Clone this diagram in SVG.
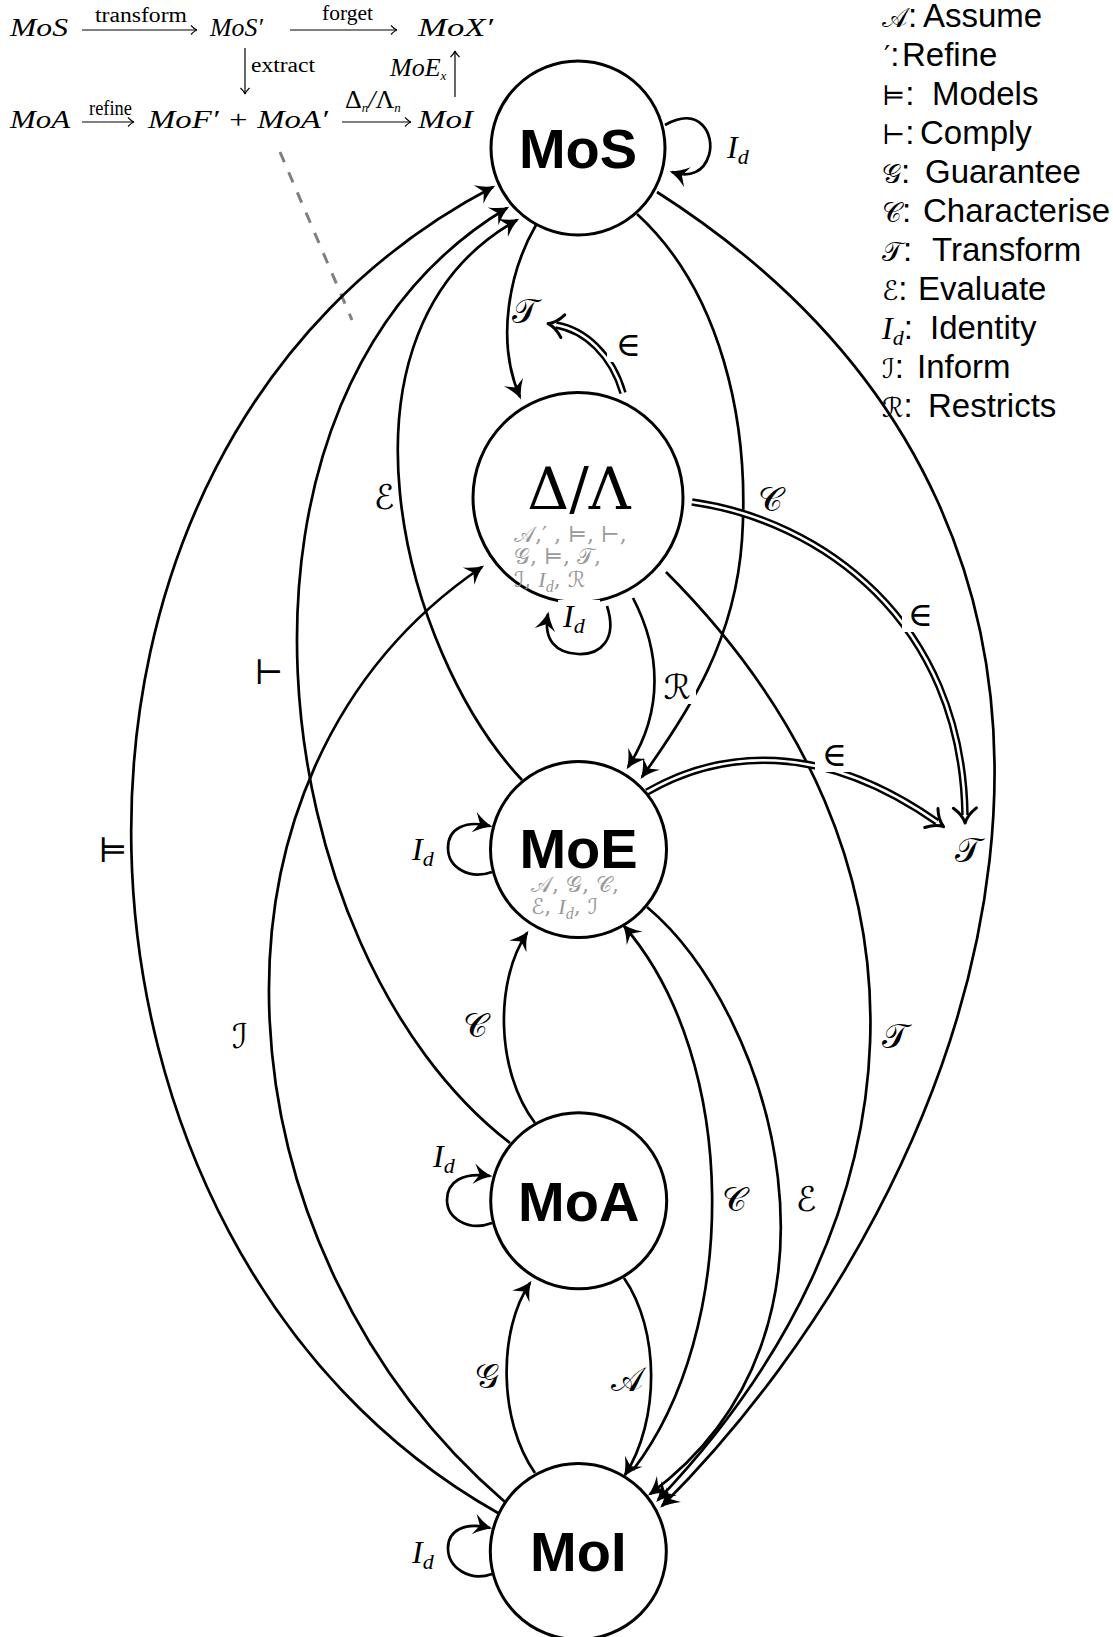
<svg xmlns="http://www.w3.org/2000/svg" width="1113" height="1637" viewBox="0 0 1113 1637">
<style>
.node{fill:#fff;stroke:#000;stroke-width:3}
.nl{font-family:"Liberation Sans",Arial,sans-serif;font-weight:bold;font-size:56px;text-anchor:middle;fill:#000}
.e{fill:none;stroke:#000;stroke-width:2.7}
.dbo{fill:none;stroke:#000;stroke-width:7.5}
.dbi{fill:none;stroke:#fff;stroke-width:2.6}
.lab{font-family:"DejaVu Serif","DejaVu Sans",serif;font-size:34px;text-anchor:middle;fill:#000}
.it{font-family:"Liberation Serif","Times New Roman",serif;font-style:italic}
.gr{font-family:"DejaVu Serif","DejaVu Sans",serif;font-size:22px;fill:#999}
.leg{font-family:"Liberation Sans",Arial,sans-serif;font-size:33px;fill:#000}
.legs{font-family:"DejaVu Serif","DejaVu Sans",serif;font-size:27px;fill:#000}
.cd{font-family:"Liberation Serif","Times New Roman",serif;font-size:26px;font-style:italic;fill:#000}
.cdl{font-family:"Liberation Serif","Times New Roman",serif;font-size:20px;fill:#000}
.dl{font-family:"DejaVu Serif",serif;font-size:58px;text-anchor:middle;fill:#000}
.thin{fill:none;stroke:#000;stroke-width:1.2}
.wb{fill:#fff;stroke:none}
</style>
<defs>
<marker id="ah" markerUnits="userSpaceOnUse" markerWidth="26" markerHeight="26" viewBox="-15 -10 19 20" refX="0" refY="0" orient="auto">
<path d="M2,0 Q-5,-2 -12.5,-8 L-8,0 L-12.5,8 Q-5,2 2,0 Z" fill="#000"/>
</marker>
<marker id="imp" markerUnits="userSpaceOnUse" markerWidth="30" markerHeight="30" viewBox="-12 -13 24 26" refX="0" refY="0" orient="auto">
<path d="M7,0 Q0,-2 -6,-10 M7,0 Q0,2 -6,10" fill="none" stroke="#000" stroke-width="2.6" stroke-linecap="round"/>
</marker>
<marker id="ta" markerUnits="userSpaceOnUse" markerWidth="12" markerHeight="12" viewBox="-8 -6 10 12" refX="0" refY="0" orient="auto">
<path d="M-6,-4.5 Q-2,-0.5 0,0 Q-2,0.5 -6,4.5" fill="none" stroke="#000" stroke-width="1.2"/>
</marker>
</defs>
<rect width="1113" height="1637" fill="#fff"/>

<!-- top-left commutative diagram -->
<g id="cd">
<text class="cd" x="10" y="36" textLength="58" lengthAdjust="spacingAndGlyphs">MoS</text>
<text class="cd" x="210" y="36" textLength="53" lengthAdjust="spacingAndGlyphs">MoS′</text>
<text class="cd" x="418" y="36" textLength="75" lengthAdjust="spacingAndGlyphs">MoX′</text>
<text class="cd" x="10" y="128" textLength="60" lengthAdjust="spacingAndGlyphs">MoA</text>
<text class="cd" x="148" y="128" textLength="180" lengthAdjust="spacingAndGlyphs">MoF′ + MoA′</text>
<text class="cd" x="418" y="128" textLength="55" lengthAdjust="spacingAndGlyphs">MoI</text>
<text class="cdl" x="95" y="22" textLength="92" lengthAdjust="spacingAndGlyphs">transform</text>
<text class="cdl" x="322" y="20" textLength="51" lengthAdjust="spacingAndGlyphs">forget</text>
<text class="cdl" x="251" y="72" textLength="64" lengthAdjust="spacingAndGlyphs">extract</text>
<text class="cdl" x="89" y="115" textLength="43" lengthAdjust="spacingAndGlyphs">refine</text>
<text class="cd" x="390" y="76" font-size="18">MoE<tspan font-size="13" dy="4">x</tspan></text>
<text class="cd" x="345" y="108" font-size="18"><tspan font-style="normal">Δ</tspan><tspan font-size="13" dy="4">n</tspan><tspan dy="-4">/</tspan><tspan font-style="normal">Λ</tspan><tspan font-size="13" dy="4">n</tspan></text>
<path class="thin" d="M82,30 H197" marker-end="url(#ta)"/>
<path class="thin" d="M290,30 H397" marker-end="url(#ta)"/>
<path class="thin" d="M245,48 V94" marker-end="url(#ta)"/>
<path class="thin" d="M455,97 V51" marker-end="url(#ta)"/>
<path class="thin" d="M82,122 H134" marker-end="url(#ta)"/>
<path class="thin" d="M342,122 H411" marker-end="url(#ta)"/>
</g>
<path d="M280,152 L352,320" stroke="#808080" stroke-width="3" stroke-dasharray="11 11" fill="none"/>

<!-- legend -->
<g id="legend">
<text x="882" y="27"><tspan class="legs">𝒜</tspan><tspan class="leg">:</tspan></text><text class="leg" x="923" y="27">Assume</text>
<text x="884" y="66"><tspan class="legs">′</tspan><tspan class="leg">:</tspan></text><text class="leg" x="902" y="66">Refine</text>
<text x="882" y="105"><tspan class="legs">⊨</tspan><tspan class="leg">:</tspan></text><text class="leg" x="932" y="105">Models</text>
<text x="882" y="144"><tspan class="legs">⊢</tspan><tspan class="leg">:</tspan></text><text class="leg" x="920" y="144">Comply</text>
<text x="882" y="183"><tspan class="legs">𝒢</tspan><tspan class="leg">:</tspan></text><text class="leg" x="925" y="183">Guarantee</text>
<text x="882" y="222"><tspan class="legs">𝒞</tspan><tspan class="leg">:</tspan></text><text class="leg" x="923" y="222">Characterise</text>
<text x="882" y="261"><tspan class="legs">𝒯</tspan><tspan class="leg">:</tspan></text><text class="leg" x="932" y="261">Transform</text>
<text x="882" y="300"><tspan class="legs">ℰ</tspan><tspan class="leg">:</tspan></text><text class="leg" x="918" y="300">Evaluate</text>
<text class="leg" x="882" y="339"><tspan class="it" font-size="32">I</tspan><tspan class="it" font-size="22" dy="6">d</tspan><tspan dy="-6">:</tspan></text><text class="leg" x="930" y="339">Identity</text>
<text x="882" y="378"><tspan class="legs">ℐ</tspan><tspan class="leg">:</tspan></text><text class="leg" x="917" y="378">Inform</text>
<text x="882" y="417"><tspan class="legs">ℛ</tspan><tspan class="leg">:</tspan></text><text class="leg" x="928" y="417">Restricts</text>
</g>

<!-- connectors -->
<g id="edges">
<path class="e" d="M498,1513 C30,1250 -10,450 493,187" marker-end="url(#ah)"/>
<path class="e" d="M510,1143 C260,950 195,395 507,208" marker-end="url(#ah)"/>
<path class="e" d="M522,780 C400,650 320,330 517,220" marker-end="url(#ah)"/>
<path class="e" d="M505,1502 C216,1254 174,776 482,567" marker-end="url(#ah)"/>
<path class="e" d="M536,225 C510,270 495,340 520,397" marker-end="url(#ah)"/>
<path class="e" d="M637,214 C720,290 750,420 742,540 C735,640 690,710 642,777" marker-end="url(#ah)"/>
<path class="e" d="M633,598 C660,650 665,710 628,767" marker-end="url(#ah)"/>
<path class="e" d="M657,192 C1212,547 987,1182 662,1506" marker-end="url(#ah)"/>
<path class="e" d="M666,572 C957,863 922,1223 658,1500" marker-end="url(#ah)"/>
<path class="e" d="M647,907 C770,1010 872,1330 650,1494" marker-end="url(#ah)"/>
<path class="e" d="M633,1470 C740,1330 740,1060 624,926" marker-end="url(#ah)"/>
<path class="e" d="M535,1123 C495,1070 495,980 527,933" marker-end="url(#ah)"/>
<path class="e" d="M535,1473 C498,1420 498,1330 530,1283" marker-end="url(#ah)"/>
<path class="e" d="M624,1278 C660,1330 660,1420 625,1475" marker-end="url(#ah)"/>
<path class="e" d="M665,125 C700,105 715,135 709,155 C704,172 690,178 672,172" marker-end="url(#ah)"/>
<path class="e" d="M607,606 C618,640 600,655 578,654 C556,653 543,640 548,614" marker-end="url(#ah)"/>
<path class="e" d="M492,872 C470,880 448,868 448,848 C448,828 466,820 490,826" marker-end="url(#ah)"/>
<path class="e" d="M492,1223 C468,1232 447,1218 447,1200 C447,1182 462,1172 490,1176" marker-end="url(#ah)"/>
<path class="e" d="M492,1574 C470,1582 448,1568 448,1548 C448,1530 465,1522 490,1528" marker-end="url(#ah)"/>
<path class="dbo" d="M623,393 C612,355 585,330 556,325" marker-end="url(#imp)"/>
<path class="dbi" d="M623,393 C612,355 585,330 556,325"/>
<path class="dbo" d="M692,502 C820,520 962,620 965,815" marker-end="url(#imp)"/>
<path class="dbi" d="M692,502 C820,520 962,620 965,815"/>
<path class="dbo" d="M647,792 C720,750 820,740 937,822" marker-end="url(#imp)"/>
<path class="dbi" d="M647,792 C720,750 820,740 937,822"/>
</g>

<!-- nodes -->
<g id="n-MoS"><circle class="node" cx="578" cy="148" r="87"/><text class="nl" x="578" y="168">MoS</text></g>
<g id="n-DL"><circle class="node" cx="578" cy="497.5" r="105"/>
<text class="dl" x="579" y="509">Δ/Λ</text>
<text class="gr" x="514" y="542">𝒜,′ , ⊨, ⊢,</text>
<text class="gr" x="514" y="564">𝒢, ⊨, 𝒯,</text>
<text class="gr" x="514" y="587">ℐ, <tspan class="it">I</tspan><tspan class="it" font-size="16" dy="5">d</tspan><tspan dy="-5">, ℛ</tspan></text>
</g>
<g id="n-MoE"><circle class="node" cx="578.5" cy="849.5" r="88"/><text class="nl" x="578.5" y="868">MoE</text>
<text class="gr" x="531" y="892">𝒜, 𝒢, 𝒞,</text>
<text class="gr" x="531" y="914">ℰ, <tspan class="it">I</tspan><tspan class="it" font-size="16" dy="5">d</tspan><tspan dy="-5">, ℐ</tspan></text>
</g>
<g id="n-MoA"><circle class="node" cx="578.7" cy="1200.7" r="88"/><text class="nl" x="578.7" y="1221">MoA</text></g>
<g id="n-MoI"><circle class="node" cx="578.3" cy="1551.6" r="88"/><text class="nl" x="578.3" y="1571">MoI</text></g>
<g id="n-T"><text class="lab" x="968" y="862" font-size="36">𝒯</text></g>

<!-- edge labels -->
<g id="labels">
<text class="lab" x="525" y="323">𝒯</text>
<rect class="wb" x="607" y="328" width="36" height="34"/><text class="lab" x="628" y="356">∈</text>
<text class="lab" x="384" y="509">ℰ</text>
<text class="lab" x="770" y="511">𝒞</text>
<rect class="wb" x="902" y="598" width="36" height="34"/><text class="lab" x="920" y="626">∈</text>
<text class="lab" x="269" y="684">⊢</text>
<rect class="wb" x="660" y="672" width="36" height="32"/><text class="lab" x="677" y="699">ℛ</text>
<rect class="wb" x="815" y="738" width="38" height="34"/><text class="lab" x="834" y="766">∈</text>
<text class="lab" x="113" y="862">⊨</text>
<text class="lab" x="475" y="1037">𝒞</text>
<text class="lab" x="240" y="1048">ℐ</text>
<text class="lab" x="895" y="1048">𝒯</text>
<text class="lab" x="734" y="1211">𝒞</text>
<text class="lab" x="806" y="1211">ℰ</text>
<text class="lab" x="487" y="1388">𝒢</text>
<text class="lab" x="627" y="1391">𝒜</text>
<text x="727" y="158" font-size="32"><tspan class="it">I</tspan><tspan class="it" font-size="22" dy="6">d</tspan></text>
<rect class="wb" x="558" y="600" width="42" height="34"/>
<text x="563" y="627" font-size="32"><tspan class="it">I</tspan><tspan class="it" font-size="22" dy="6">d</tspan></text>
<text x="412" y="860" font-size="32"><tspan class="it">I</tspan><tspan class="it" font-size="22" dy="6">d</tspan></text>
<text x="433" y="1167" font-size="32"><tspan class="it">I</tspan><tspan class="it" font-size="22" dy="6">d</tspan></text>
<text x="412" y="1563" font-size="32"><tspan class="it">I</tspan><tspan class="it" font-size="22" dy="6">d</tspan></text>
</g>
</svg>
